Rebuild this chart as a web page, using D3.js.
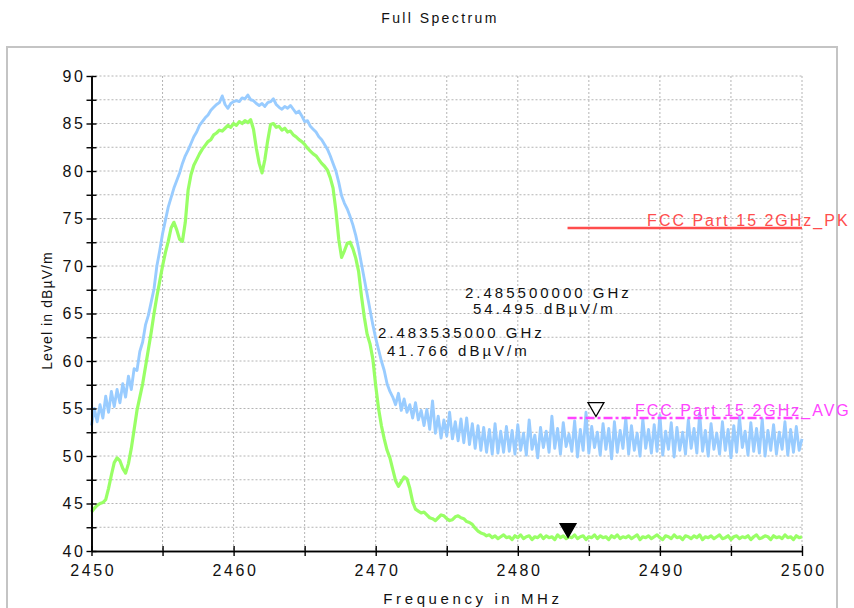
<!DOCTYPE html>
<html>
<head>
<meta charset="utf-8">
<script src="https://cdn.jsdelivr.net/npm/d3@7"></script>
<style>
  body { margin: 0; background: #fff; }
  text { font-family: "Liberation Sans", Arial, sans-serif; fill: #111; }
</style>
</head>
<body>
<div id="chart"></div>
<script>
// sweep: 2450 .. 2500 MHz, one reading every 0.2 MHz
const freqStart = 2450;
const freqStep = 0.2;

// peak detector trace (light blue), dBuV/m
const peakTrace = [
  53.2, 55.0, 53.6, 55.4, 54.0, 56.3, 54.6, 56.8, 55.2, 57.0,
  55.6, 57.6, 56.2, 58.4, 57.0, 59.2, 59.0, 61.0, 62.0, 63.8,
  64.8, 66.2, 67.6, 70.0, 71.6, 73.4, 74.8, 76.2, 77.2, 78.2,
  79.0, 79.8, 80.8, 81.6, 82.2, 82.9, 83.6, 84.1, 84.8, 85.2,
  85.6, 85.9, 86.4, 86.7, 87.0, 87.2, 87.9, 87.0, 86.6, 87.1,
  87.3, 87.4, 87.3, 87.7, 87.6, 88.0, 87.5, 87.4, 87.1, 86.9,
  87.1, 86.8, 87.2, 87.3, 87.6, 87.0, 86.7, 86.5, 86.8, 86.6,
  86.9, 86.5, 86.1, 86.3, 85.8, 85.2, 85.3, 84.7, 84.4, 84.1,
  83.6, 83.3, 82.8, 82.3, 81.6, 80.8, 80.0, 78.8, 77.4, 76.6,
  76.0, 75.2, 74.3, 73.2, 71.8, 70.2, 68.6, 67.0, 65.4, 63.8,
  62.4, 61.2, 60.0, 59.0, 57.6, 56.8, 56.2, 55.4, 56.6, 54.8,
  56.0, 54.6, 55.4, 54.0, 55.6, 53.8, 54.8, 53.2, 54.9, 52.8,
  55.8, 52.4, 54.2, 51.9, 53.8, 52.1, 54.6, 51.8, 53.6, 51.6,
  53.9, 51.4, 54.0, 51.2, 53.4, 50.8, 53.2, 50.6, 53.0, 50.4,
  52.8, 50.2, 53.4, 50.3, 52.6, 50.4, 53.1, 50.5, 52.7, 50.2,
  53.3, 50.6, 52.4, 50.1, 53.8, 50.7, 52.2, 49.8, 53.0, 50.9,
  52.6, 50.4, 54.2, 50.8, 52.9, 50.2, 53.5, 51.0, 52.3, 50.5,
  53.7, 49.9, 52.8, 50.6, 54.6, 50.3, 53.1, 50.9, 52.5, 50.1,
  53.4, 50.7, 52.9, 49.7, 53.6, 50.4, 52.7, 50.8, 54.0, 50.2,
  53.2, 50.6, 52.4, 50.0, 53.9, 50.8, 52.8, 50.3, 53.3, 50.5,
  54.3, 50.1, 52.6, 50.7, 53.5, 49.9, 53.0, 50.6, 52.5, 50.2,
  53.8, 50.8, 52.9, 50.3, 54.5, 50.5, 52.7, 50.0, 53.4, 50.7,
  52.4, 50.2, 53.6, 50.6, 52.8, 49.8, 53.2, 50.4, 54.1, 50.9,
  52.6, 50.1, 53.5, 50.5, 52.9, 50.3, 53.9, 50.0, 52.7, 50.6,
  53.3, 50.2, 52.5, 50.7, 53.6, 50.1, 52.8, 50.4, 53.1, 50.6,
  51.8
];

// average detector trace (light green), dBuV/m
const avgTrace = [
  44.1, 44.5, 44.8, 45.0, 45.1, 45.4, 46.6, 48.0, 49.3, 49.8,
  49.5, 48.7, 48.2, 49.2, 50.8, 52.8, 54.8, 56.2, 57.6, 59.4,
  61.2, 63.0, 65.0, 66.8, 68.4, 70.0, 71.4, 72.6, 74.0, 74.6,
  73.8, 72.8, 72.6, 74.6, 78.0, 79.6, 80.6, 81.2, 81.8, 82.3,
  82.7, 83.1, 83.3, 83.8, 84.0, 84.3, 84.2, 84.5, 84.8, 84.6,
  85.0, 84.8, 85.2, 85.0, 85.3, 85.1, 85.4, 84.4, 82.4, 80.8,
  79.8, 81.2, 83.2, 84.9, 85.0, 84.6, 84.7, 84.3, 84.5, 84.1,
  84.2, 83.8, 83.6, 83.3, 83.1, 82.8, 82.4, 82.1, 81.8, 81.6,
  81.2, 80.8, 80.5, 80.1, 79.3, 78.2, 75.8, 72.8, 70.9, 71.6,
  72.4, 72.5, 71.8, 70.8, 69.4, 66.8, 64.6, 62.8, 61.8, 60.2,
  57.4, 55.0, 53.2, 51.8, 50.6, 49.8, 48.6, 47.4, 46.8, 47.3,
  47.8, 47.6, 46.6, 45.2, 44.4, 44.2, 44.0, 44.1, 43.8, 43.5,
  43.4, 43.2, 43.5, 43.8, 43.7, 43.4, 43.2, 43.3, 43.6, 43.7,
  43.5, 43.4, 43.1, 43.0, 42.8, 42.4, 42.1, 41.9, 41.8, 41.6,
  41.7, 41.4, 41.6, 41.3, 41.5, 41.7, 41.4, 41.5, 41.2, 41.6,
  41.4, 41.7, 41.3, 41.5, 41.6, 41.2, 41.5, 41.4, 41.7, 41.3,
  41.6, 41.4, 41.5, 41.2, 41.7, 41.4, 41.6, 41.3, 41.5, 41.4,
  41.7, 41.3, 41.5, 41.6, 41.2, 41.5, 41.4, 41.7, 41.3, 41.6,
  41.4, 41.5, 41.2, 41.6, 41.4, 41.7, 41.3, 41.5, 41.4, 41.6,
  41.3, 41.5, 41.7, 41.2, 41.5, 41.4, 41.6, 41.3, 41.5, 41.7,
  41.4, 41.2, 41.6, 41.5, 41.3, 41.7, 41.4, 41.5, 41.2, 41.6,
  41.5, 41.3, 41.6, 41.4, 41.7, 41.2, 41.5, 41.4, 41.6, 41.3,
  41.5, 41.7, 41.3, 41.4, 41.6, 41.2, 41.5, 41.6, 41.3, 41.5,
  41.4, 41.6, 41.2, 41.5, 41.7, 41.3, 41.4, 41.6, 41.5, 41.2,
  41.6, 41.4, 41.5, 41.3, 41.7, 41.4, 41.5, 41.2, 41.6, 41.4,
  41.5
];

// limit lines
const limitNames = ["FCC Part 15 2GHz_PK", "FCC Part 15 2GHz_AVG"];
const limitLevels = [74, 54];
const limitFrom = [2483.5, 2483.5];
const limitTo = [2500, 2500];

// markers: frequency (MHz), level, label lines
const markerFreqs = [2485.5, 2483.535];
const markerLevels = [54.495, 41.766];
const markerLabels = [
  ["2.485500000 GHz", "54.495 dBµV/m"],
  ["2.483535000 GHz", "41.766 dBµV/m"]
];

const xTicks = [2450, 2460, 2470, 2480, 2490, 2500];
const yTicks = [40, 45, 50, 55, 60, 65, 70, 75, 80, 85, 90];

const W = 854, H = 608;
const margin = {top: 76, right: 52, bottom: 57, left: 91.5};
const width = W - margin.left - margin.right;
const height = H - margin.top - margin.bottom;

const svg = d3.select("#chart").append("svg")
  .attr("width", W)
  .attr("height", H);

// outer frame
svg.append("rect")
  .attr("x", 7).attr("y", 47)
  .attr("width", 830).attr("height", 590)
  .attr("fill", "none")
  .attr("stroke", "#c4c4c4")
  .attr("stroke-width", 2);

svg.append("text")
  .attr("x", 440).attr("y", 23)
  .attr("text-anchor", "middle")
  .style("font-size", "14px")
  .style("letter-spacing", "2.4px")
  .text("Full Spectrum");

const g = svg.append("g")
  .attr("transform", "translate(" + margin.left + "," + margin.top + ")");

const x = d3.scaleLinear().domain([2450, 2500]).range([0, width]);
const y = d3.scaleLinear().domain([40, 90]).range([height, 0]);

const xMinor = d3.range(2450, 2500.1, 5);
const yMinor = d3.range(40, 90.1, 2.5);

// dotted grid at every tick, major and minor
g.append("g").selectAll("line")
  .data(yMinor.filter(v => v > 40))
  .join("line")
  .attr("x1", 0).attr("x2", width)
  .attr("y1", d => y(d)).attr("y2", d => y(d))
  .attr("stroke", "#b4b4b4")
  .attr("stroke-dasharray", "2,2");

g.append("g").selectAll("line")
  .data(xMinor.filter(v => v > 2450))
  .join("line")
  .attr("y1", 0).attr("y2", height)
  .attr("x1", d => x(d)).attr("x2", d => x(d))
  .attr("stroke", "#b4b4b4")
  .attr("stroke-dasharray", "2,2");

// traces
const line = d3.line()
  .x((d, i) => x(freqStart + i * freqStep))
  .y(d => y(d));

g.append("path")
  .datum(peakTrace)
  .attr("fill", "none")
  .attr("stroke", "#99ccff")
  .attr("stroke-width", 2.9)
  .attr("stroke-linejoin", "round")
  .attr("d", line);

g.append("path")
  .datum(avgTrace)
  .attr("fill", "none")
  .attr("stroke", "#99ff66")
  .attr("stroke-width", 3.2)
  .attr("stroke-linejoin", "round")
  .attr("d", line);

// limit lines
const limitColors = ["#ff4d4d", "#ff44ff"];
const limitDash = [null, "9,3,3,3"];
const limitLabelX = [2489.1, 2488.25];

limitNames.forEach((name, k) => {
  g.append("line")
    .attr("x1", x(limitFrom[k])).attr("x2", x(limitTo[k]))
    .attr("y1", y(limitLevels[k])).attr("y2", y(limitLevels[k]))
    .attr("stroke", limitColors[k])
    .attr("stroke-width", 2.4)
    .attr("stroke-dasharray", limitDash[k]);
  g.append("text")
    .attr("x", x(limitLabelX[k]))
    .attr("y", y(limitLevels[k]) - 2)
    .style("font-size", "16px")
    .style("letter-spacing", "2px")
    .style("fill", limitColors[k])
    .text(name);
});

// marker triangles: open for peak, filled for average
const tri = d3.symbol().type(d3.symbolTriangle).size(110);
markerFreqs.forEach((f, k) => {
  g.append("path")
    .attr("d", tri)
    .attr("transform", "translate(" + x(f) + "," + (y(markerLevels[k]) - 6) + ") rotate(180)")
    .attr("fill", k === 0 ? "#fff" : "#000")
    .attr("stroke", "#000")
    .attr("stroke-width", 1.3);
});

// marker read-outs
const labelPos = [[465, 298, 473, 314], [378, 338, 387, 356]];
markerLabels.forEach((lines, k) => {
  lines.forEach((t, j) => {
    svg.append("text")
      .attr("x", labelPos[k][j * 2])
      .attr("y", labelPos[k][j * 2 + 1])
      .style("font-size", "15px")
      .style("letter-spacing", "3px")
      .text(t);
  });
});

// axes: ticks cross the axis line, so draw each side once
const tickFont = g => g.selectAll("text")
  .style("font-size", "16px")
  .style("letter-spacing", "2.6px")
  .style("font-family", "Liberation Sans, Arial, sans-serif")
  .attr("fill", "#111");

const xAxisG = g.append("g").attr("transform", "translate(0," + height + ")");
xAxisG.append("g")
  .call(d3.axisBottom(x).tickValues(xMinor).tickSize(5).tickSizeOuter(0)
    .tickFormat(d => xTicks.includes(d) ? d : ""))
  .call(tickFont)
  .call(a => a.selectAll("text").attr("dy", "1.05em").attr("dx", 1.3).attr("y", 8));
xAxisG.append("g")
  .call(d3.axisTop(x).tickValues(xMinor).tickSize(5).tickSizeOuter(0).tickFormat(""));

const yAxisG = g.append("g");
yAxisG.append("g")
  .call(d3.axisLeft(y).tickValues(yMinor).tickSize(5).tickSizeOuter(0)
    .tickFormat(d => yTicks.includes(d) ? d : ""))
  .call(tickFont)
  .call(a => a.selectAll("text").attr("x", -6));
yAxisG.append("g")
  .call(d3.axisRight(y).tickValues(yMinor).tickSize(5).tickSizeOuter(0).tickFormat(""));

g.selectAll(".domain").attr("stroke", "#000").attr("stroke-width", 1.6);
g.selectAll(".tick line").attr("stroke", "#000").attr("stroke-width", 1.4);

// axis titles
svg.append("text")
  .attr("x", 473)
  .attr("y", 604)
  .attr("text-anchor", "middle")
  .style("font-size", "15px")
  .style("letter-spacing", "3.6px")
  .text("Frequency in MHz");

svg.append("text")
  .attr("transform", "translate(52," + (margin.top + height / 2 - 3) + ") rotate(-90)")
  .attr("text-anchor", "middle")
  .style("font-size", "14px")
  .style("letter-spacing", "1.1px")
  .text("Level in dBµV/m");
</script>
</body>
</html>
